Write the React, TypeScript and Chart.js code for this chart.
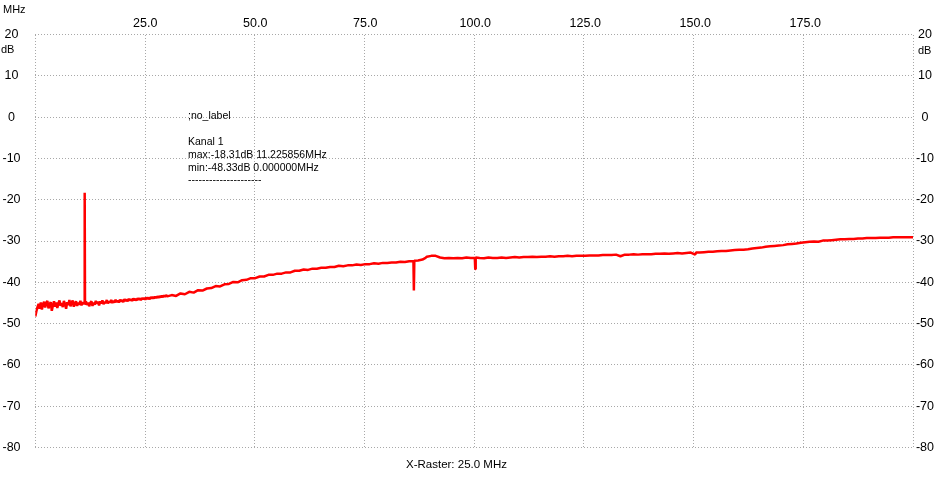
import React, { useEffect, useRef } from 'react';
import { Chart, registerables } from 'chart.js';

Chart.register(...registerables);

// ---- data ----
const xTicksMHz = [25, 50, 75, 100, 125, 150, 175];
const xMinMHz = 0;
const xMaxMHz = 199.5;
const yMinDb = -80;
const yMaxDb = 20;
const yStepDb = 10;

// 0 .. 11 MHz, noisy floor
const lowBand: [number, number][] = [
  [0, -48.3], [0.25, -47.0], [0.5, -46.0], [0.75, -45.2], [1, -46.4], [1.25, -44.9],
  [1.5, -46.6], [1.75, -45.3], [2, -44.7], [2.25, -46.1], [2.5, -45.0], [2.75, -44.5],
  [3, -46.3], [3.25, -45.4], [3.5, -44.8], [3.75, -46.9], [4, -45.6], [4.25, -44.6],
  [4.5, -45.9], [4.75, -44.9], [5, -46.2], [5.25, -45.1], [5.5, -44.4], [5.75, -45.7],
  [6, -45.0], [6.25, -46.0], [6.5, -44.5], [6.75, -45.3], [7, -46.4], [7.25, -44.8],
  [7.5, -45.5], [7.75, -44.3], [8, -45.8], [8.25, -45.0], [8.5, -44.4], [8.75, -45.9],
  [9, -45.2], [9.25, -44.6], [9.5, -45.7], [9.75, -44.9], [10, -45.4], [10.25, -44.5],
  [10.5, -45.6], [10.75, -44.8], [11, -45.3],
];

// carrier at 11.225856 MHz
const carrier: [number, number][] = [
  [11.15, -45.0], [11.225856, -18.31], [11.3, -45.2],
];

// 11.5 .. 30 MHz
const band2: [number, number][] = [
  [11.5, -44.6], [11.75, -45.5], [12, -44.9], [12.25, -45.8], [12.5, -45.0], [12.75, -44.6],
  [13, -45.7], [13.25, -44.9], [13.5, -45.4], [13.75, -44.5], [14, -45.2], [14.25, -44.7],
  [14.5, -45.6], [14.75, -44.6], [15, -45.1], [15.25, -44.4], [15.5, -45.3], [15.75, -44.8],
  [16, -45.0], [16.25, -44.3], [16.5, -45.1], [16.75, -44.6], [17, -44.9], [17.25, -44.3],
  [17.5, -45.0], [17.75, -44.5], [18, -44.9], [18.25, -44.2], [18.5, -44.8], [18.75, -44.4],
  [19, -44.9], [19.25, -44.2], [19.5, -44.6], [19.75, -44.3], [20, -44.8], [20.25, -44.1],
  [20.5, -44.5], [20.75, -44.2], [21, -44.6], [21.25, -44.0], [21.5, -44.4], [21.75, -44.1],
  [22, -44.5], [22.25, -43.9], [22.5, -44.3], [22.75, -44.0], [23, -44.4], [23.25, -43.9],
  [23.5, -44.2], [23.75, -43.9], [24, -44.3], [24.25, -43.8], [24.5, -44.1], [24.75, -43.8],
  [25, -44.2], [25.25, -43.7], [25.5, -44.0], [25.75, -43.7], [26, -44.1], [26.25, -43.6],
  [26.5, -43.9], [26.75, -43.6], [27, -43.9], [27.25, -43.5], [27.5, -43.8], [27.75, -43.4],
  [28, -43.7], [28.25, -43.4], [28.5, -43.6], [28.75, -43.3], [29, -43.6], [29.25, -43.2],
  [29.5, -43.5], [29.75, -43.1], [30, -43.4],
];

// 31 .. 100 MHz
const band3: [number, number][] = [
  [31, -43.1], [32, -43.3], [33, -42.7], [34, -42.9], [35, -42.3], [36, -42.5],
  [37, -41.9], [38, -42.0], [39, -41.5], [40, -41.4], [41, -40.9], [42, -41.0],
  [43, -40.5], [44, -40.4], [45, -39.9], [46, -40.0], [47, -39.5], [48, -39.4],
  [49, -39.0], [50, -39.0], [51, -38.6], [52, -38.6], [53, -38.2], [54, -38.2],
  [55, -37.9], [56, -37.9], [57, -37.6], [58, -37.6], [59, -37.2], [60, -37.2],
  [61, -36.9], [62, -37.0], [63, -36.7], [64, -36.7], [65, -36.5], [66, -36.5],
  [67, -36.3], [68, -36.3], [69, -36.0], [70, -36.1], [71, -35.9], [72, -35.9],
  [73, -35.7], [74, -35.8], [75, -35.6], [76, -35.6], [77, -35.4], [78, -35.5],
  [79, -35.3], [80, -35.3], [81, -35.2], [82, -35.2], [83, -35.0], [84, -35.1],
  [85, -34.9], [85.95, -34.9], [86.05, -42.0], [86.15, -34.8], [87, -34.7], [88, -34.5],
  [88.7, -34.1], [89, -33.8], [90, -33.6], [91, -33.6], [92, -34.0], [93, -34.2],
  [94, -34.1], [95, -34.2], [96, -34.1], [97, -34.2], [98, -34.0], [99, -34.1],
  [99.9, -34.1], [100, -36.8], [100.1, -34.0],
];

// 101 .. 199.5 MHz
const band4: [number, number][] = [
  [101, -34.1], [102, -34.2], [103, -34.0], [104, -34.1], [105, -34.1], [106, -34.0],
  [107, -34.1], [108, -34.0], [109, -33.9], [110, -34.0], [111, -33.9], [112, -33.9],
  [113, -33.8], [114, -33.9], [115, -33.8], [116, -33.8], [117, -33.7], [118, -33.8],
  [119, -33.7], [120, -33.7], [121, -33.6], [122, -33.7], [123, -33.6], [124, -33.6],
  [125, -33.6], [126, -33.5], [127, -33.5], [128, -33.5], [129, -33.4], [130, -33.4],
  [131, -33.4], [132, -33.3], [133, -33.7], [134, -33.3], [135, -33.3], [136, -33.2],
  [137, -33.3], [138, -33.2], [139, -33.2], [140, -33.2], [141, -33.1], [142, -33.1],
  [143, -33.0], [144, -33.1], [145, -33.0], [146, -32.9], [147, -33.0], [148, -32.9],
  [149, -32.8], [150, -33.3], [150.2, -32.8], [151, -32.8], [152, -32.7], [153, -32.6],
  [154, -32.6], [155, -32.5], [156, -32.4], [157, -32.4], [158, -32.3], [159, -32.2],
  [160, -32.1], [161, -32.1], [162, -32.0], [163, -31.8], [164, -31.7], [165, -31.6],
  [166, -31.4], [167, -31.3], [168, -31.2], [169, -31.1], [170, -31.0], [171, -30.8],
  [172, -30.7], [173, -30.6], [174, -30.4], [175, -30.3], [176, -30.2], [177, -30.1],
  [178, -30.2], [179, -29.9], [180, -29.9], [181, -29.8], [182, -29.7], [183, -29.6],
  [184, -29.6], [185, -29.5], [186, -29.5], [187, -29.4], [188, -29.4], [189, -29.3],
  [190, -29.3], [191, -29.3], [192, -29.2], [193, -29.2], [194, -29.2], [195, -29.1],
  [196, -29.1], [197, -29.1], [198, -29.1], [199, -29.1], [199.5, -29.1],
];

const xUnit = 'MHz';
const yUnit = 'dB';
const markerLabel = ';no_label';
const annotationLines = [
  'Kanal 1',
  'max:-18.31dB 11.225856MHz',
  'min:-48.33dB 0.000000MHz',
  '---------------------',
];
const rasterLabel = 'X-Raster: 25.0 MHz';

const FONT = '"Liberation Sans", Arial, sans-serif';

const textPlugin = {
  id: 'staticText',
  afterDraw(chart: any) {
    const ctx = chart.ctx as CanvasRenderingContext2D;
    const xs = chart.scales.x;
    ctx.save();
    ctx.fillStyle = '#000';
    ctx.textBaseline = 'middle';
    // top frequency axis labels, placed through the x scale
    ctx.textAlign = 'center';
    ctx.font = `12.5px ${FONT}`;
    xTicksMHz.forEach((v) => ctx.fillText(v.toFixed(1), xs.getPixelForValue(v), 24));
    ctx.textAlign = 'left';
    ctx.font = `11px ${FONT}`;
    ctx.fillText(xUnit, 3, 10);
    ctx.fillText(yUnit, 1, 50);
    ctx.fillText(yUnit, 918, 51);
    ctx.font = `10.5px ${FONT}`;
    ctx.fillText(markerLabel, 188, 116);
    annotationLines.forEach((t, i) => ctx.fillText(t, 188, 142.5 + i * 12.7));
    ctx.font = `11.5px ${FONT}`;
    ctx.fillText(rasterLabel, 406, 465);
    ctx.restore();
  },
};

export default function App() {
  const ref = useRef<HTMLCanvasElement | null>(null);

  useEffect(() => {
    document.body.style.margin = '0';
    const canvas = ref.current;
    if (!canvas) return;
    const points = [...lowBand, ...carrier, ...band2, ...band3, ...band4]
      .sort((a, b) => a[0] - b[0])
      .map(([x, y]) => ({ x, y }));

    const gridColor = '#a8a8a8';
    const tickFont = { family: FONT, size: 12.5 };

    const chart = new Chart(canvas, {
      type: 'line',
      data: {
        datasets: [
          {
            data: points,
            borderColor: '#ff0000',
            backgroundColor: '#ff0000',
            borderWidth: 2.5,
            pointRadius: 0,
            tension: 0,
            borderJoinStyle: 'bevel',
            xAxisID: 'x',
            yAxisID: 'y',
          },
        ],
      },
      options: {
        animation: false,
        responsive: false,
        devicePixelRatio: 1,
        layout: { padding: { left: 0, right: 0, top: 0, bottom: 35.5 } },
        plugins: {
          legend: { display: false },
          tooltip: { enabled: false },
          title: { display: false },
        },
        scales: {
          x: {
            type: 'linear',
            position: 'top',
            min: xMinMHz,
            max: xMaxMHz,
            ticks: {
              display: false,
              stepSize: 25,
              autoSkip: false,
              maxRotation: 0,
            },
            grid: { color: gridColor, lineWidth: 1, drawTicks: false },
            border: { display: false, dash: [1, 2] },
            afterFit: (s: any) => {
              s.height = 34.5;
            },
          },
          y: {
            type: 'linear',
            position: 'left',
            min: yMinDb,
            max: yMaxDb,
            ticks: {
              stepSize: yStepDb,
              crossAlign: 'center',
              padding: 14.75,
              color: '#000',
              font: tickFont,
            },
            grid: { color: gridColor, lineWidth: 1, drawTicks: false },
            border: { display: false, dash: [1, 2] },
            afterFit: (s: any) => {
              s.width = 35.3;
            },
          },
          y2: {
            type: 'linear',
            position: 'right',
            min: yMinDb,
            max: yMaxDb,
            ticks: {
              stepSize: yStepDb,
              crossAlign: 'center',
              padding: 2.95,
              color: '#000',
              font: tickFont,
            },
            grid: { display: false, drawTicks: false },
            border: { display: false },
            afterFit: (s: any) => {
              s.width = 35;
            },
          },
        },
      } as any,
      plugins: [textPlugin],
    });
    return () => chart.destroy();
  }, []);

  return (
    <div style={{ width: 948, height: 483, background: '#fff' }}>
      <canvas ref={ref} width={948} height={483} style={{ display: 'block' }} />
    </div>
  );
}
